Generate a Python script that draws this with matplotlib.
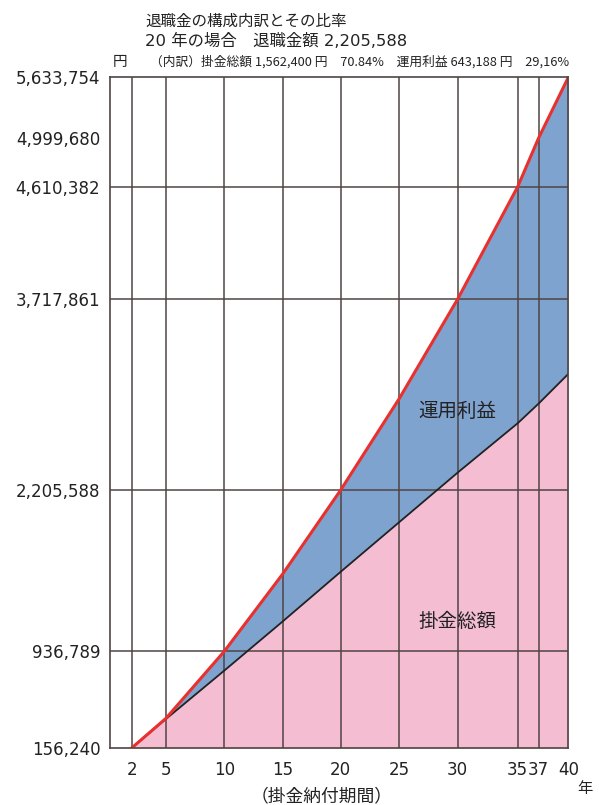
import numpy as np
import matplotlib
matplotlib.use("Agg")
import matplotlib.pyplot as plt

plt.rcParams['font.family'] = ['Noto Sans CJK JP', 'DejaVu Sans']

# data
years = [2, 5, 10, 15, 20, 25, 30, 35, 37, 40]
total = [156240, 396000, 936789, 1545000, 2205588, 2930000, 3717861, 4610382, 4999680, 5633754]   # 退職金額
contrib = [156240, 390600, 781200, 1171800, 1562400, 1953000, 2343600, 2734200, 2890440, 3124800]  # 掛金総額

x_ticks = [2, 5, 10, 15, 20, 25, 30, 35, 37, 40]
y_ticks = [156240, 936789, 2205588, 3717861, 4610382, 4999680, 5633754]
y_grid = [936789, 2205588, 3717861, 4610382]

# the printed chart is not drawn to an even scale, so use a piecewise scale
x_knots = [0, 2, 5, 10, 15, 20, 25, 30, 35, 37, 40]
x_pos = [0, 21.7, 56, 114.3, 172.7, 230.7, 289.3, 347.7, 407.7, 428.7, 458.3]
y_knots = y_ticks
y_pos = [0, 96.7, 258, 449, 561.3, 610.2, 670.7]


def piecewise(knots, pos):
    k = np.asarray(knots, float)
    p = np.asarray(pos, float)
    return (lambda v: np.interp(v, k, p)), (lambda t: np.interp(t, p, k))


W, H = 599, 805
fig = plt.figure(figsize=(W / 100, H / 100), dpi=100)
ax = fig.add_axes([110 / W, 1 - 748 / H, 458.3 / W, 670.7 / H])
ax.set_xscale('function', functions=piecewise(x_knots, x_pos))
ax.set_yscale('function', functions=piecewise(y_knots, y_pos))
ax.set_xlim(0, 40)
ax.set_ylim(156240, 5633754)

pink = '#f4bdd1'
blue = '#7fa3cf'
grid_c = '#504444'
txt_c = '#222222'

ax.fill_between(years, 156240, contrib, color=pink, lw=0, zorder=1)
ax.fill_between(years, contrib, total, color=blue, lw=0, zorder=1)

for x in x_ticks[:-1]:
    ax.axvline(x, color=grid_c, lw=1.1, zorder=2)
for y in y_grid:
    ax.axhline(y, color=grid_c, lw=1.1, zorder=2)

ax.plot(years, contrib, color='#222222', lw=1.3, zorder=3)
ax.plot(years, total, color='#e8312f', lw=2.2, zorder=4)

for s in ax.spines.values():
    s.set_color(grid_c)
    s.set_linewidth(1.2)
    s.set_zorder(5)

ax.set_xticks(x_ticks)
ax.set_xticklabels([str(v) for v in x_ticks], fontfamily='DejaVu Sans', fontsize=12, color=txt_c)
ax.set_yticks(y_ticks)
ax.set_yticklabels([f'{v:,}' for v in y_ticks], fontfamily='DejaVu Sans', fontsize=12, color=txt_c)
ax.tick_params(axis='x', length=0, pad=9)
ax.tick_params(axis='y', length=0, pad=7)
ax.minorticks_off()

ax.text(30, 2825000, '運用利益', ha='center', va='center', fontsize=14, color=txt_c, zorder=6)
ax.text(30, 1170000, '掛金総額', ha='center', va='center', fontsize=14, color=txt_c, zorder=6)


def ftext(px, py, s, **kw):
    fig.text(px / W, 1 - py / H, s, **kw)


mixed = ['DejaVu Sans', 'Noto Sans CJK JP']
ftext(145, 21, '退職金の構成内訳とその比率', ha='left', va='center', fontsize=11.2, color=txt_c)
ftext(145, 41, '20 年の場合　退職金額 2,205,588', ha='left', va='center', fontsize=11.8,
      color=txt_c, family=mixed)
ftext(113, 62, '円', ha='left', va='center', fontsize=10.5, color=txt_c)
ftext(150, 62, '（内訳）掛金総額 1,562,400 円　70.84%　運用利益 643,188 円　29,16%',
      ha='left', va='center', fontsize=9.2, color=txt_c)
ftext(585, 788, '年', ha='center', va='center', fontsize=11, color=txt_c)
ftext(322, 796, '（掛金納付期間）', ha='center', va='center', fontsize=12.8, color=txt_c)

fig.savefig('out.png', dpi=100)
